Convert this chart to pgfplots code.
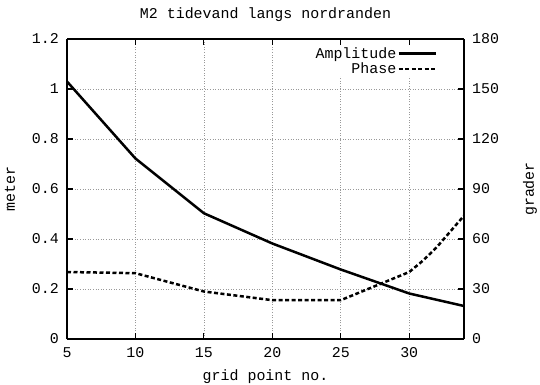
\documentclass[border=0pt]{standalone}
\usepackage{pgfplots}
\pgfplotsset{compat=1.18}
\usetikzlibrary{calc}
\usepackage{fontspec}
\setmainfont{Liberation Mono}
\begin{document}
\fontsize{15}{17}\selectfont
\begin{tikzpicture}[x=1bp,y=1bp]
\pgfplotsset{
  common/.style={
    scale only axis, width=397bp, height=300bp,
    xmin=5, xmax=34,
    tick style={line width=1.2bp, black},
    major tick length=6bp,
    tick label style={font=\fontsize{15}{17}\selectfont},
    axis line style={line width=1.4bp},
  }
}
\begin{axis}[common, name=ax,
  ymin=0, ymax=1.2,
  axis y line*=left,
  xtick={5,10,15,20,25,30},
  xticklabels={5,10,15,20,25,30},
  ytick={0,0.2,0.4,0.6,0.8,1,1.2},
  yticklabels={0,0.2,0.4,0.6,0.8,1,1.2},
  xtick pos=both,
  xticklabel style={yshift=-3bp},
  yticklabel style={xshift=-3bp},
  grid=major,
  grid style={gray!80, line width=0.7bp, dash pattern=on 1bp off 1.6bp},
  legend style={draw=none, fill=white, at={(rel axis cs:1,1)}, anchor=north east,
    xshift=-26bp, yshift=-7bp, inner xsep=1bp, inner ysep=0bp,
    nodes={inner sep=1bp}, row sep=0bp, font=\fontsize{15}{17}\selectfont},
  legend cell align=right,
  legend plot pos=right,
  legend image code/.code={\draw[#1] (0bp,0bp) -- (37bp,0bp);},
]
\addplot[black, line width=2.5bp] coordinates {
(5,1.03) (10,0.722) (15,0.503) (20,0.382) (25,0.278) (30,0.182) (34,0.132)
};
\addlegendentry{Amplitude\hspace{7bp}}
\addlegendimage{black, line width=2.5bp, dash pattern=on 4bp off 2.5bp}
\addlegendentry{Phase\hspace{7bp}}
\end{axis}
\begin{axis}[common,
  ymin=0, ymax=180,
  axis x line=none,
  axis y line*=right,
  ytick={0,30,60,90,120,150,180},
  yticklabels={0,30,60,90,120,150,180},
  yticklabel style={xshift=3bp},
]
\addplot[black, line width=2.5bp, dash pattern=on 4bp off 2.5bp] coordinates {
(5,40.2) (10,39.5) (15,28.5) (20,23.3) (25,23.3) (30,40.2) (31,47) (32,55) (33,64.5) (34,74)
};
\end{axis}
\node at ($(ax.north)+(0,24)$) {M2 tidevand langs nordranden};
\node at ($(ax.south)+(0,-38)$) {grid point no.};
\node[rotate=90] at ($(ax.west)+(-57,0)$) {meter};
\node[rotate=90] at ($(ax.east)+(66,0)$) {grader};
\pgfresetboundingbox
\useasboundingbox (-67,-45) rectangle (473,339);
\end{tikzpicture}
\end{document}
